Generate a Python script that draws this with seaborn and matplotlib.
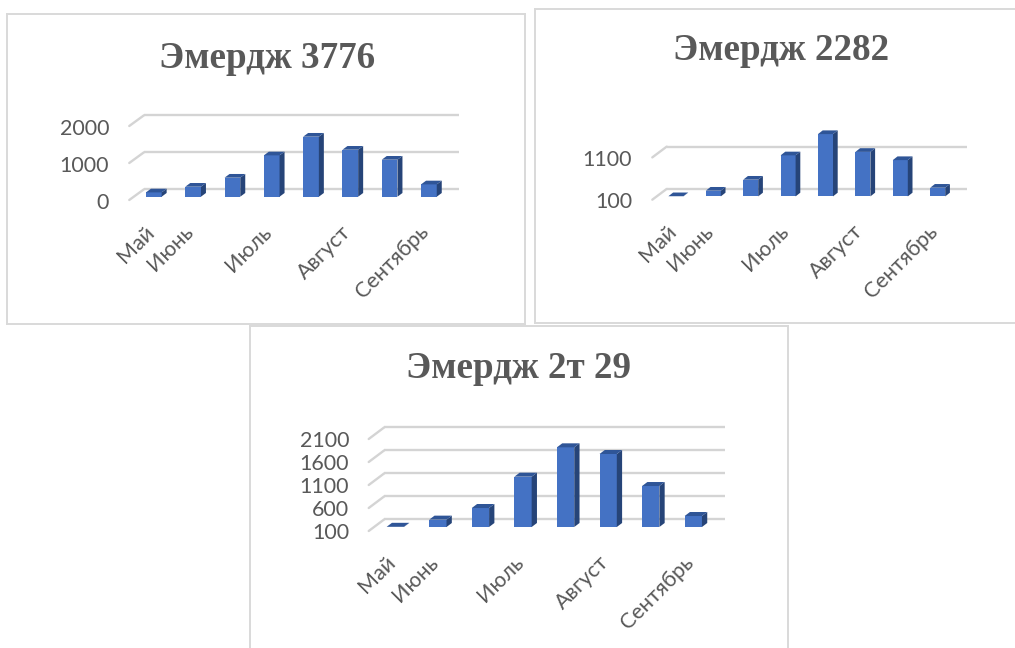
import matplotlib
matplotlib.use("Agg")
import matplotlib.pyplot as plt
import matplotlib.transforms as mtransforms
from matplotlib.patches import Polygon
import seaborn as sns

# Monthly emergence counts, eight observation periods per variety
periods = [0, 1, 2, 3, 4, 5, 6, 7]
label_periods = [0, 1, 3, 5, 7]
month_labels = ["Май", "Июнь", "Июль", "Август", "Сентябрь"]

titles = ["Эмердж 3776", "Эмердж 2282", "Эмердж 2т 29"]
values_3776 = [116, 270, 514, 1117, 1622, 1270, 1000, 333]
values_2282 = [104, 235, 495, 1070, 1573, 1152, 958, 305]
values_2t29 = [104, 260, 513, 1194, 1832, 1687, 991, 339]
ticks_3776 = [0, 1000, 2000]
ticks_2282 = [100, 1100]
ticks_2t29 = [100, 600, 1100, 1600, 2100]

W, H = 1015, 648
GRID = "#d4d4d4"
BORDER = "#d9d9d9"
TEXT = "#595959"
FRONT = "#4472c4"
SIDE = "#264478"
TOP = "#2f5597"

sns.set_theme(style="white")
plt.rcParams["font.family"] = ["Lato", "DejaVu Sans"]

fig = plt.figure(figsize=(W / 100, H / 100), dpi=100, facecolor="white")


def box(left, top, right, bottom):
    """Pixel box (origin top-left) to figure fractions."""
    return [left / W, 1 - bottom / H, (right - left) / W, (bottom - top) / H]


def draw_panel(title, values, ticks, frame, title_xy, first_center, band, bar_px,
               base_y, px_per_unit, y_top, grid_right, depth, floor):
    # Outer card with the thin grey border
    card = fig.add_axes(box(*frame), facecolor="white")
    card.set_xticks([])
    card.set_yticks([])
    for s in card.spines.values():
        s.set_color(BORDER)
        s.set_linewidth(1.4)
    fig.text(title_xy[0] / W, 1 - title_xy[1] / H, title, ha="center", va="center",
             family="Liberation Serif", weight="bold", fontsize=26.7, color=TEXT)

    # Plot area: the axes bottom sits on the bars' base line
    left = first_center - band / 2
    right = left + band * len(periods)
    y_low = ticks[0]
    top = base_y - (y_top - y_low) * px_per_unit
    ax = fig.add_axes(box(left, top, right, base_y), facecolor="none")
    ax.set_zorder(card.get_zorder() + 1)
    sns.barplot(x=periods, y=values, order=periods, color=FRONT, saturation=1,
                width=bar_px / band, linewidth=0, ax=ax, zorder=3)
    ax.set_xlim(-0.5, len(periods) - 0.5)
    ax.set_ylim(y_low, y_top)
    ax.set_xlabel("")
    ax.set_ylabel("")
    sns.despine(ax=ax, left=True, bottom=True)

    to_x = 1 / band
    to_y = 1 / px_per_unit
    back_dx, back_dy, front_dx, front_dy = floor

    # Back-wall gridlines with a short slanted stub coming forward on the floor
    for v in ticks:
        xb = -0.5 + back_dx * to_x
        yb = v + back_dy * to_y
        ax.plot([xb, (grid_right - left) * to_x - 0.5], [yb, yb], color=GRID, lw=1.7,
                clip_on=False, zorder=1, solid_capstyle="butt")
        ax.plot([xb, -0.5 + front_dx * to_x], [yb, v + front_dy * to_y], color=GRID,
                lw=1.7, clip_on=False, zorder=1)

    # Extruded side and top faces derived from each drawn bar
    dx, dy = depth[0] * to_x, depth[1] * to_y
    for bar in list(ax.patches):
        x0, x1 = bar.get_x(), bar.get_x() + bar.get_width()
        h = bar.get_height()
        ax.add_patch(Polygon([(x1, y_low), (x1 + dx, y_low + dy), (x1 + dx, h + dy), (x1, h)],
                             facecolor=SIDE, edgecolor="none", zorder=3, clip_on=False))
        ax.add_patch(Polygon([(x0, h), (x1, h), (x1 + dx, h + dy), (x0 + dx, h + dy)],
                             facecolor=TOP, edgecolor="none", zorder=3, clip_on=False))

    ax.set_xticks(label_periods, month_labels)
    ax.set_yticks(ticks, [str(t) for t in ticks])
    ax.tick_params(axis="x", length=0, pad=18, labelsize=15.5, labelcolor=TEXT)
    ax.tick_params(axis="y", length=0, pad=18, labelsize=15.5, labelcolor=TEXT)
    # Slanted month names end just under their bar
    x_shift = mtransforms.ScaledTranslation(-10 / 100, 0, fig.dpi_scale_trans)
    for lab in ax.get_xticklabels():
        lab.set_rotation(45)
        lab.set_ha("right")
        lab.set_va("top")
        lab.set_rotation_mode("anchor")
        lab.set_transform(lab.get_transform() + x_shift)
    # Value labels sit level with the front edge of the floor
    y_shift = mtransforms.ScaledTranslation(0, -4 / 100, fig.dpi_scale_trans)
    for lab in ax.get_yticklabels():
        lab.set_transform(lab.get_transform() + y_shift)


draw_panel(titles[0], values_3776, ticks_3776, (7, 14, 525, 324), (267, 58),
           153.8, 39.3, 15.7, 196.7, 0.037, 2000, 458.5, (5, 3.7), (9.8, 7.4, -4.9, -3.3))
draw_panel(titles[1], values_2282, ticks_2282, (535, 9, 1030, 323), (781, 51),
           675.9, 37.4, 15, 196.4, 0.0423, 1700, 966.7, (4.7, 3.7), (9.5, 7.5, -4.9, -3.3))
draw_panel(titles[2], values_2t29, ticks_2t29, (250, 326, 788, 660), (519, 369),
           395.3, 42.57, 17.3, 527, 0.046, 2100, 725, (5.3, 4), (10.3, 7.7, -5.3, -4))

fig.savefig("out.png", dpi=100)
